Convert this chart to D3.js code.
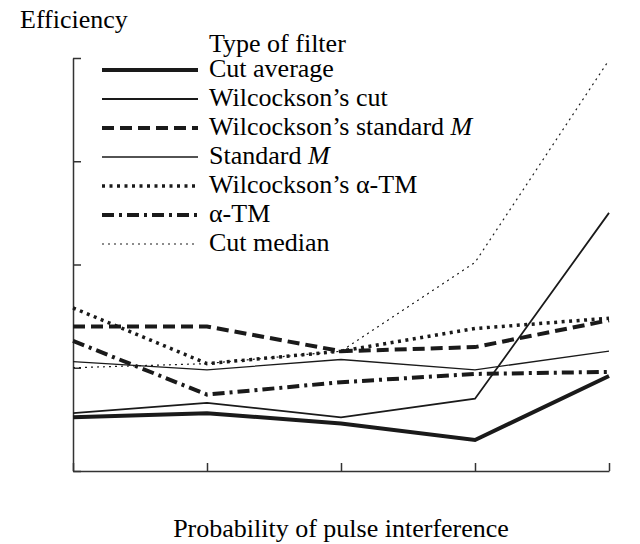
<!DOCTYPE html>
<html>
<head>
<meta charset="UTF-8">
<script src="https://d3js.org/d3.v7.min.js"></script>
</head>
<body style="margin:0">
<svg id="chart" width="640" height="544"></svg>
<script>
// data
const probs = ['0.01', '0.05', '0.10', '0.20', '0.30'];
const cutAverage      = [0.976, 0.978, 0.973, 0.965, 0.996];
const wilcCut         = [0.978, 0.983, 0.976, 0.985, 1.075];
const wilcStandardM   = [1.020, 1.020, 1.008, 1.010, 1.023];
const standardM       = [1.003, 0.999, 1.004, 0.999, 1.008];
const wilcAlphaTM     = [1.029, 1.002, 1.008, 1.019, 1.024];
const alphaTM         = [1.013, 0.987, 0.993, 0.997, 0.998];
const cutMedian       = [1.000, 1.002, 1.008, 1.051, 1.149];
const yTicks = [0.95, 1.00, 1.05, 1.10, 1.15];

const series = [
  {name: 'Cut average', values: cutAverage, width: 4, dash: null},
  {name: 'Wilcockson\u2019s cut', values: wilcCut, width: 1.8, dash: null},
  {name: 'Wilcockson\u2019s standard ', ital: 'M', values: wilcStandardM, width: 4, dash: '12,6'},
  {name: 'Standard ', ital: 'M', values: standardM, width: 1.3, dash: null},
  {name: 'Wilcockson\u2019s \u03b1-TM', values: wilcAlphaTM, width: 3.5, dash: '3,4.5'},
  {name: '\u03b1-TM', values: alphaTM, width: 4, dash: '12,5,3,5'},
  {name: 'Cut median', values: cutMedian, width: 1.2, dash: '2,4'}
];

const svg = d3.select('#chart');
const x = d3.scalePoint().domain(probs).range([73, 609]);
const y = d3.scaleLinear().domain([0.95, 1.15]).range([471, 58]);

// same way the font test set it: family and size only
function serif(sel) {
  return sel.style('font-family', () => '"Liberation Serif"').style('font-size', '26px');
}

function styleAxis(g) {
  g.attr('font-family', null).attr('font-size', null);
  g.selectAll('path, line').attr('stroke', '#333').attr('stroke-width', 1.5);
  g.selectAll('text').attr('fill', null).call(serif);
}

svg.append('g')
  .attr('transform', 'translate(73,0)')
  .call(d3.axisLeft(y).tickValues(yTicks).tickFormat(d3.format('.2f'))
    .tickSizeInner(-8).tickSizeOuter(0).tickPadding(10))
  .call(styleAxis);

svg.append('g')
  .attr('transform', 'translate(0,471)')
  .call(d3.axisBottom(x).tickSizeInner(-8).tickSizeOuter(0).tickPadding(8))
  .call(styleAxis);

const line = d3.line().x((d, i) => x(probs[i])).y(d => y(d));

svg.append('g').selectAll('path').data(series).enter()
  .append('path')
  .attr('d', d => line(d.values))
  .attr('fill', 'none')
  .attr('stroke', '#1a1a1a')
  .attr('stroke-width', d => d.width)
  .attr('stroke-dasharray', d => d.dash)
  .attr('stroke-linejoin', 'miter');

// axis titles
svg.append('text').attr('x', 20).attr('y', 28).call(serif).text('Efficiency');
svg.append('text').attr('x', 341).attr('y', 537)
  .attr('text-anchor', 'middle').call(serif).text('Probability of pulse interference');

// legend
const legend = svg.append('g');
legend.append('text').attr('x', 209).attr('y', 52).call(serif).text('Type of filter');
const rows = legend.selectAll('g.row').data(series).enter()
  .append('g').attr('class', 'row')
  .attr('transform', (d, i) => `translate(0,${70 + i * 29})`);
rows.append('line')
  .attr('x1', 102).attr('x2', 198)
  .attr('stroke', '#1a1a1a')
  .attr('stroke-width', d => d.width)
  .attr('stroke-dasharray', d => d.dash);
const lt = rows.append('text').attr('x', 209).attr('y', 7).call(serif);
lt.append('tspan').call(serif).text(d => d.name);
lt.filter(d => d.ital).append('tspan').call(serif).style('font-style', 'italic').text(d => d.ital);
</script>
</body>
</html>
